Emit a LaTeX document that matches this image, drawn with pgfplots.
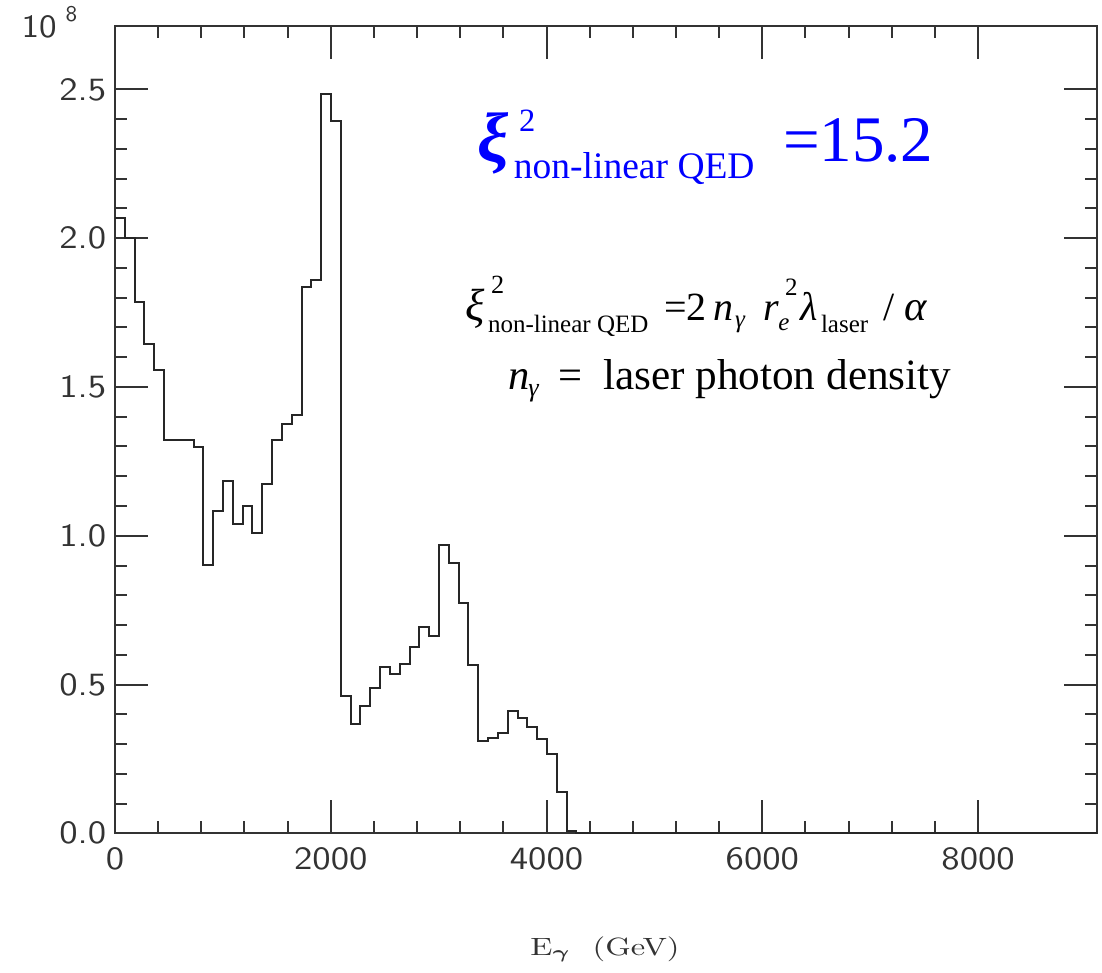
\documentclass[border=0pt]{standalone}
\usepackage{pgfplots}
\pgfplotsset{compat=1.18}
\usepackage{graphicx}
\usepackage{fontspec}
\newfontfamily\tnr{Liberation Serif}

% histogram, bins of 91 GeV, values in units of 10^8
\pgfplotstableread{
x y
0 2.067
91 2.001
182 1.784
273 1.643
364 1.557
455 1.322
546 1.322
637 1.322
728 1.299
819 0.902
910 1.083
1001 1.184
1092 1.038
1183 1.100
1274 1.008
1365 1.174
1456 1.322
1547 1.375
1638 1.406
1729 1.835
1820 1.859
1911 2.485
2002 2.394
2093 0.461
2184 0.366
2275 0.428
2366 0.487
2457 0.559
2548 0.534
2639 0.569
2730 0.625
2821 0.694
2912 0.664
3003 0.968
3094 0.907
3185 0.775
3276 0.564
3367 0.311
3458 0.320
3549 0.337
3640 0.412
3731 0.386
3822 0.356
3913 0.317
4004 0.265
4095 0.139
4186 0.008
4277 0
9100 0
}\histo

\begin{document}
\begin{tikzpicture}
\useasboundingbox (-46pt,-55.48pt) rectangle (394.8pt,333.32pt);
\begin{axis}[
    at={(0pt,0pt)}, anchor=south west,
    scale only axis, width=392.7pt, height=322.9pt,
    xmin=0, xmax=9100, ymin=0, ymax=2.713,
    xtick={0,2000,4000,6000,8000},
    ytick={0,0.5,1,1.5,2,2.5},
    minor x tick num=4, minor y tick num=4,
    major tick length=13.3pt, minor tick length=4.8pt,
    tick align=inside,
    axis line style={black!80, line width=0.8pt},
    every tick/.append style={black!80, line width=0.8pt},
    ticklabel style={font=\fontsize{13}{13}\sffamily, text=black!80},
    /pgf/number format/assume math mode=true,
    xticklabel={\scalebox{1.15}[1]{\pgfmathprintnumber[1000 sep={}]{\tick}}},
    yticklabel={\scalebox{1.15}[1]{\pgfmathprintnumber[fixed,fixed zerofill,precision=1]{\tick}}},
    x tick label style={yshift=-2pt},
]
\addplot[const plot, black!85, line width=0.8pt, mark=none] table[x=x, y=y] {\histo};
\end{axis}

\begin{scope}[shift={(-46pt,333.32pt)}, x=0.4pt, y=-0.4pt,
    every node/.style={anchor=base west, inner sep=0pt, outer sep=0pt}]
% axis multiplier and x label
\node[text=black!80] at (21.7,37.3) {\scalebox{1.1}[1]{\fontsize{13}{13}\sffamily 10}};
\node[text=black!80] at (65.7,22) {\fontsize{9}{9}\sffamily 8};
\node[anchor=base, text=black!80] at (605,955) {\scalebox{1.3}[1]{\fontsize{10}{10}\selectfont E$_{\mbox{\boldmath$\scriptstyle\gamma$}}$\ \ (GeV)}};
% blue headline, one node: xi with superscript and subscript
\node[text=blue] at (478,161.7) {\tnr\makebox[0pt][l]{\fontsize{28}{28}\selectfont\bfseries\itshape ξ}\hspace*{14.4pt}\makebox[0pt][l]{\hspace*{2pt}\raisebox{12pt}{\fontsize{13}{13}\selectfont 2}}\raisebox{-6.64pt}{\fontsize{15}{15}\selectfont non-linear QED}};
\node[text=blue] at (783,161.7) {\tnr\fontsize{26}{26}\selectfont =15.2};
% definition
\node at (465,320.7) {\tnr\fontsize{18}{18}\selectfont\itshape ξ};
\node at (491,293.3) {\tnr\fontsize{10.5}{10.5}\selectfont 2};
\node at (488,332.7) {\tnr\fontsize{10}{10}\selectfont non-linear QED};
\node at (664,320.7) {\tnr\fontsize{16}{16}\selectfont =2};
\node at (713.3,320.7) {\tnr\fontsize{16}{16}\selectfont\itshape n};
\node at (735,327.5) {\tnr\fontsize{10}{10}\selectfont\itshape γ};
\node at (763,320.7) {\tnr\fontsize{16}{16}\selectfont\itshape r};
\node at (785,296) {\tnr\fontsize{10}{10}\selectfont 2};
\node at (778.3,330.5) {\tnr\fontsize{10}{10}\selectfont\itshape e};
\node at (800,320.7) {\tnr\fontsize{16}{16}\selectfont\itshape λ};
\node at (821,332.7) {\tnr\fontsize{10}{10}\selectfont laser};
\node at (883.3,320.7) {\tnr\fontsize{16}{16}\selectfont /};
\node at (904,320.7) {\tnr\fontsize{17}{17}\selectfont\itshape α};
% photon density line
\node at (508.3,390) {\tnr\fontsize{17}{17}\selectfont\itshape n};
\node at (528.3,396.7) {\tnr\fontsize{10.5}{10.5}\selectfont\itshape γ};
\node at (558.3,390) {\tnr\fontsize{17}{17}\selectfont =};
\node at (603,390) {\tnr\fontsize{17.3}{17.3}\selectfont laser photon density};
\end{scope}
\end{tikzpicture}
\end{document}
